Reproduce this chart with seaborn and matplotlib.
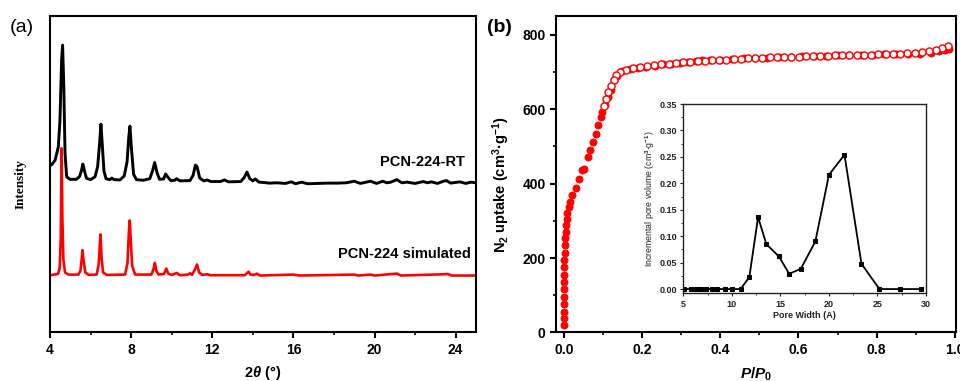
import matplotlib
matplotlib.use("Agg")
import matplotlib.pyplot as plt
import pandas as pd
import seaborn as sns
from matplotlib.ticker import MultipleLocator, FormatStrFormatter

# ---- (a) PXRD patterns: (2theta, intensity) vertices ----
rt_theta = [4.00, 4.08, 4.25, 4.41, 4.49, 4.57, 4.62, 4.68, 4.74, 4.82, 4.98, 5.30, 5.46, 5.55, 5.62, 5.70, 5.80, 6.00,
            6.22, 6.35, 6.44, 6.51, 6.58, 6.66, 6.76, 6.95, 7.05, 7.15, 7.45, 7.66, 7.80, 7.88, 7.94, 8.01, 8.12, 8.26,
            8.60, 8.92, 9.05, 9.16, 9.28, 9.40, 9.60, 9.70, 9.82, 9.95, 10.15, 10.24, 10.40, 10.90, 11.05, 11.17, 11.25,
            11.38, 11.58, 11.75, 11.92, 12.40, 12.60, 12.80, 13.40, 13.58, 13.71, 13.85, 14.00, 14.12, 14.30, 14.55,
            14.80, 15.20, 15.60, 15.90, 16.10, 16.40, 16.70, 17.20, 17.70, 18.20, 18.60, 19.00, 19.30, 19.80, 20.10,
            20.40, 20.60, 20.80, 21.10, 21.35, 21.60, 22.00, 22.40, 22.60, 22.80, 23.10, 23.40, 23.55, 23.75, 24.20,
            24.50, 24.75, 25.00]
rt_int = [52.8, 53.0, 54.4, 58.7, 67.0, 86.0, 90.8, 77.7, 56.6, 49.2, 48.4, 48.4, 49.3, 51.2, 53.2, 51.0, 48.7, 48.3,
          49.2, 52.5, 59.5, 65.8, 59.0, 51.0, 48.6, 48.3, 48.8, 48.3, 48.2, 49.5, 54.0, 61.5, 65.2, 58.5, 50.0, 48.3,
          48.1, 48.6, 51.0, 53.7, 50.4, 48.4, 48.5, 50.1, 49.0, 48.0, 48.1, 48.6, 47.9, 48.0, 49.6, 52.9, 52.4,
          48.8, 47.9, 48.2, 47.7, 47.7, 48.2, 47.6, 47.7, 49.0, 50.7, 48.6, 47.9, 48.5, 47.5, 47.4,
          47.2, 47.3, 47.1, 47.6, 47.0, 47.5, 47.0, 47.1, 47.2, 47.2, 47.3, 47.8, 47.1, 47.8, 47.1,
          47.8, 47.3, 47.5, 48.3, 47.3, 47.5, 47.1, 47.7, 47.3, 47.6, 47.1, 47.8, 48.0, 47.2, 47.6,
          47.1, 47.5, 47.3]

sim_theta = [4.00, 4.30, 4.40, 4.48, 4.53, 4.57, 4.61, 4.66, 4.74, 4.90, 5.40, 5.50, 5.56, 5.60, 5.66, 5.74, 5.90, 6.30,
             6.40, 6.45, 6.49, 6.54, 6.61, 6.80, 7.70, 7.82, 7.89, 7.93, 7.98, 8.05, 8.20, 9.00, 9.10, 9.17, 9.24,
             9.35, 9.62, 9.73, 9.83, 10.00, 10.25, 10.40, 10.80, 10.90, 11.00, 11.15, 11.25, 11.35, 11.50, 11.75,
             11.90, 13.60, 13.72, 13.79, 13.88, 14.05, 14.20, 14.35, 16.00, 16.30, 19.00, 19.20, 19.80, 20.00,
             21.10, 21.30, 23.40, 23.60, 23.80, 25.00]
sim_int = [18.1, 18.4, 18.6, 20.5, 30.0, 58.2, 36.0, 23.0, 19.0, 18.3, 18.3, 19.5, 23.0, 26.0, 22.5, 19.0, 18.2, 18.3,
           21.5, 27.0, 31.0, 24.0, 19.0, 18.2, 18.3, 22.0, 32.0, 35.4, 29.0, 21.0, 18.3, 18.3, 20.0, 22.0, 19.5,
           18.3, 18.5, 20.2, 18.6, 18.2, 18.8, 18.1, 18.3, 18.7, 18.2, 20.0, 21.5, 19.0, 18.2, 18.4,
           18.1, 18.1, 18.8, 19.2, 18.3, 18.2, 18.6, 18.0, 18.3, 18.0, 18.3, 18.0, 18.3, 18.0,
           18.6, 18.0, 18.4, 18.5, 18.0, 18.0]

# ---- (b) N2 isotherm ----
ads_p = [0.0000, 0.0001, 0.0002, 0.0003, 0.0004, 0.0005, 0.0007, 0.0009, 0.0012, 0.0016, 0.0021, 0.0027, 0.0034,
         0.0043, 0.0055, 0.0070, 0.0090, 0.0128, 0.0170, 0.0210, 0.0300, 0.0380, 0.0470, 0.0510, 0.0620, 0.0680,
         0.0740, 0.0810, 0.0870, 0.0940, 0.0980, 0.1050, 0.1120, 0.1200, 0.1280, 0.1360, 0.1500, 0.1700, 0.1900,
         0.2100, 0.2320, 0.2530, 0.2750, 0.2960, 0.3180, 0.3390, 0.3530, 0.3750, 0.4000, 0.4300, 0.4600, 0.4900,
         0.5200, 0.5500, 0.5800, 0.6100, 0.6400, 0.6700, 0.7000, 0.7300, 0.7600, 0.7900, 0.8200, 0.8500, 0.8800,
         0.9100, 0.9400, 0.9600, 0.9750, 0.9850]
ads_v = [20, 38, 56, 76, 96, 116, 135, 155, 175, 194, 214, 234, 253,
         270, 288, 306, 322, 337, 351, 369, 389, 411, 436, 440, 471, 489,
         512, 532, 556, 579, 592, 612, 632, 652, 677, 690, 702, 707, 711,
         714, 717, 720, 722, 724, 726, 728, 731, 731, 733, 734, 736, 737,
         738, 740, 741, 742, 743, 743, 744, 745, 745, 746, 747, 747, 748,
         749, 751, 755, 758, 762]

des_p = [0.982, 0.967, 0.952, 0.934, 0.915, 0.897, 0.878, 0.860, 0.841, 0.823, 0.804, 0.786, 0.767, 0.749, 0.730,
         0.712, 0.693, 0.675, 0.656, 0.638, 0.619, 0.601, 0.582, 0.564, 0.545, 0.527, 0.508, 0.490, 0.471, 0.453,
         0.434, 0.416, 0.397, 0.379, 0.360, 0.342, 0.323, 0.305, 0.286, 0.268, 0.249, 0.231, 0.212, 0.194, 0.176,
         0.158, 0.143, 0.134, 0.127, 0.120, 0.114, 0.108, 0.102]
des_v = [770, 764, 758, 755, 752, 751, 750, 749, 748, 748, 747, 746, 746, 745, 745,
         744, 744, 743, 743, 742, 742, 741, 741, 740, 739, 739, 738, 737, 736, 735,
         734, 733, 732, 731, 730, 729, 727, 726, 724, 722, 720, 718, 715, 713, 710,
         706, 700, 692, 678, 662, 645, 626, 607]

# ---- inset: pore size distribution ----
pore_width = [5.03, 5.8, 6.3, 6.6, 6.85, 7.35, 7.95, 8.5, 9.25, 10.0, 10.9, 11.8, 12.7, 13.55, 14.85, 15.9, 17.1,
              18.6, 20.0, 21.6, 23.35, 25.2, 27.35, 29.5]
pore_vol = [0.0, 0.0, 0.0, 0.0, 0.0, 0.0, 0.0, 0.0, 0.0, 0.0, 0.0, 0.0227, 0.136, 0.085, 0.0616, 0.0289, 0.0383,
            0.090, 0.216, 0.254, 0.0478, 0.0, 0.0, 0.0]

sns.set_style("ticks")
plt.rcParams['font.family'] = ['Liberation Sans', 'DejaVu Sans']
plt.rcParams['mathtext.fontset'] = 'custom'
plt.rcParams['mathtext.rm'] = 'Liberation Sans:bold'
plt.rcParams['mathtext.it'] = 'Liberation Sans:italic:bold'
plt.rcParams['mathtext.bf'] = 'Liberation Sans:bold'
for key in ("text.color", "axes.labelcolor", "xtick.color", "ytick.color"):
    plt.rcParams[key] = "black"

fig = plt.figure(figsize=(9.6, 3.81), dpi=100)
ax_a = fig.add_axes([0.0521, 0.1273, 0.4437, 0.8307])
ax_b = fig.add_axes([0.5792, 0.1273, 0.4166, 0.8307])
ax_in = fig.add_axes([0.7118, 0.2302, 0.2528, 0.4968])

# panel (a)
xrd = pd.DataFrame({"theta": rt_theta, "intensity": rt_int})
sim = pd.DataFrame({"theta": sim_theta, "intensity": sim_int})
sns.lineplot(data=xrd, x="theta", y="intensity", sort=False, estimator=None, color="black", lw=2.1, ax=ax_a)
sns.lineplot(data=sim, x="theta", y="intensity", sort=False, estimator=None, color="#ff0000", lw=1.9, ax=ax_a)
ax_a.set_xlim(4, 25)
ax_a.set_ylim(0, 100)
ax_a.xaxis.set_major_locator(MultipleLocator(4))
ax_a.xaxis.set_minor_locator(MultipleLocator(2))
ax_a.tick_params(axis="y", left=False, labelleft=False)
ax_a.text(24.45, 54, "PCN-224-RT", ha="right", va="center", fontsize=10.5, fontweight="bold")
ax_a.text(24.75, 24.7, "PCN-224 simulated", ha="right", va="center", fontsize=10.5, fontweight="bold")
ax_a.set_xlabel(r"$2\theta$ (°)", fontsize=10.5, fontweight="bold", labelpad=5)
ax_a.set_ylabel("Intensity", family="Liberation Serif", fontsize=9.5, fontweight="bold")
ax_a.yaxis.set_label_coords(-0.055, 0.47)

# panel (b)
sns.scatterplot(x=ads_p, y=ads_v, color="#ff0000", edgecolor="#ff0000", s=26, linewidth=0.6, ax=ax_b, zorder=3)
sns.scatterplot(x=des_p, y=des_v, facecolor="white", edgecolor="#ff0000", s=26, linewidth=1.0, ax=ax_b, zorder=4)
ax_b.set_xlim(-0.02, 1.003)
ax_b.set_ylim(0, 850)
ax_b.xaxis.set_major_locator(MultipleLocator(0.2))
ax_b.xaxis.set_minor_locator(MultipleLocator(0.1))
ax_b.yaxis.set_major_locator(MultipleLocator(200))
ax_b.yaxis.set_minor_locator(MultipleLocator(100))
ax_b.set_xlabel(r"$P/P_0$", fontsize=11, labelpad=6)
ax_b.set_ylabel(r"N$_2$ uptake (cm$^3$·g$^{-1}$)", fontsize=10.5, fontweight="bold")
ax_b.yaxis.set_label_coords(-0.111, 0.466)

for ax in (ax_a, ax_b):
    for sp in ax.spines.values():
        sp.set_linewidth(1.5)
        sp.set_color("black")
    ax.tick_params(which="major", direction="out", length=4.5, width=1.5, labelsize=10, pad=3)
    ax.tick_params(which="minor", direction="out", length=2.5, width=1.2)
    for lab in ax.get_xticklabels() + ax.get_yticklabels():
        lab.set_fontweight("bold")

# inset
sns.lineplot(x=pore_width, y=pore_vol, color="black", lw=1.3, marker="s", markersize=3.5,
             markeredgecolor="black", sort=False, estimator=None, ax=ax_in)
ax_in.set_xlim(5, 30)
ax_in.set_ylim(-0.008, 0.35)
ax_in.xaxis.set_major_locator(MultipleLocator(5))
ax_in.xaxis.set_minor_locator(MultipleLocator(2.5))
ax_in.yaxis.set_major_locator(MultipleLocator(0.05))
ax_in.yaxis.set_minor_locator(MultipleLocator(0.025))
ax_in.yaxis.set_major_formatter(FormatStrFormatter("%.2f"))
for sp in ax_in.spines.values():
    sp.set_linewidth(1.0)
    sp.set_color("#222222")
ax_in.tick_params(which="major", direction="out", length=2.5, width=0.8, labelsize=6.5, pad=2, colors="#222222")
ax_in.tick_params(which="minor", direction="out", length=1.5, width=0.6, colors="#222222")
for lab in ax_in.get_xticklabels() + ax_in.get_yticklabels():
    lab.set_fontweight("bold")
ax_in.set_xlabel("Pore Width (A)", fontsize=6.5, fontweight="bold", color="#222222", labelpad=2)
ax_in.set_ylabel(r"Incremental pore volume (cm$^3$·g$^{-1}$)", fontsize=6.3, color="#222222", labelpad=2)

fig.text(10 / 960, 0.929, "(a)", fontsize=14, va="center", ha="left")
fig.text(487 / 960, 0.929, "(b)", fontsize=14, fontweight="bold", va="center", ha="left")

fig.savefig("out.png", dpi=100)
